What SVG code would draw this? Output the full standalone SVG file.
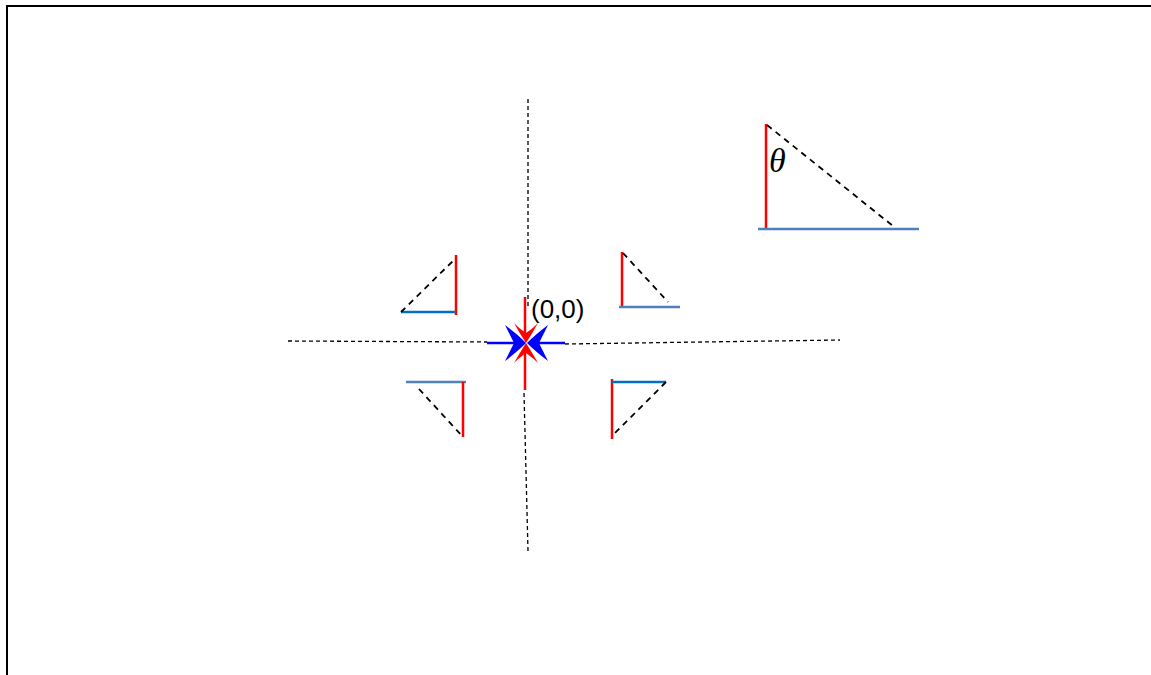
<svg xmlns="http://www.w3.org/2000/svg" width="1151" height="675" viewBox="0 0 1151 675">
<style>
.frame{fill:none;stroke:#000;stroke-width:2}
.dash{stroke:#000;stroke-width:1.3;stroke-dasharray:4,3;fill:none}
.dashb{stroke:#000;stroke-width:1.8;stroke-dasharray:6,5;fill:none}
.red{stroke:#FF0000;stroke-width:2.5;fill:none}
.blue1{stroke:#0070C0;stroke-width:2.5;fill:none}
.blue2{stroke:#4F81BD;stroke-width:2.5;fill:none}
.arrB{stroke:#0000FF;stroke-width:2.5;fill:none}
.lbl{font-family:"Liberation Sans","Open Sans",sans-serif;font-size:26px;fill:#000}
.theta{font-family:"Liberation Serif","DejaVu Serif",serif;font-style:italic;font-size:34px;fill:#000}
</style>
<defs>
<path id="headB" d="M0,0 C-6,-6 -13,-12 -21,-18 C-17,-10 -14,-4 -12,0 C-14,4 -17,10 -21,18 C-13,12 -6,6 0,0 Z" fill="#0000FF"/>
<path id="headR" d="M0,0 C-6,-4 -13,-8 -20,-12 C-15,-7 -12,-3 -10,0 C-12,3 -15,7 -20,12 C-13,8 -6,4 0,0 Z" fill="#FF0000"/>
</defs>
<rect width="1151" height="675" fill="#fff"/>
<path class="frame" d="M7,675 V6 H1151"/>
<g id="axes">
<line class="dash" x1="528" y1="99" x2="528" y2="308"/>
<line class="dash" x1="524" y1="393" x2="528" y2="551"/>
<line class="dash" x1="288" y1="341" x2="487" y2="342"/>
<line class="dash" x1="565" y1="344" x2="840" y2="340"/>
</g>
<g id="origin-arrows">
<line class="red" x1="525" y1="297" x2="525" y2="334"/>
<line class="red" x1="525" y1="390" x2="525" y2="352"/>
<line class="arrB" x1="487" y1="343" x2="517" y2="343"/>
<line class="arrB" x1="565" y1="343" x2="536" y2="343"/>
<use href="#headR" transform="translate(526,343) rotate(90)"/>
<use href="#headR" transform="translate(526,343) rotate(-90)"/>
<use href="#headB" transform="translate(526,343)"/>
<use href="#headB" transform="translate(527,343) rotate(180)"/>
<text class="lbl" x="531" y="318">(0,0)</text>
</g>
<g id="tri-big">
<line class="red" x1="766" y1="124" x2="766" y2="229"/>
<line class="blue2" x1="758" y1="229" x2="919" y2="229"/>
<line class="dashb" x1="767" y1="125" x2="893" y2="226"/>
<text class="theta" x="769" y="172">θ</text>
</g>
<g id="tri-tl">
<line class="red" x1="456" y1="255" x2="456" y2="315"/>
<line class="blue1" x1="401" y1="312" x2="456" y2="312"/>
<line class="dashb" x1="401" y1="312" x2="456" y2="258"/>
</g>
<g id="tri-tr">
<line class="red" x1="622" y1="252" x2="622" y2="306"/>
<line class="blue2" x1="619" y1="307" x2="680" y2="307"/>
<line class="dashb" x1="623" y1="253" x2="668" y2="302"/>
</g>
<g id="tri-bl">
<line class="blue2" x1="406" y1="382" x2="466" y2="382"/>
<line class="red" x1="463" y1="382" x2="463" y2="437"/>
<line class="dashb" x1="419" y1="389" x2="463" y2="437"/>
</g>
<g id="tri-br">
<line class="red" x1="612" y1="379" x2="612" y2="439"/>
<line class="blue1" x1="612" y1="382" x2="666" y2="382"/>
<line class="dashb" x1="666" y1="382" x2="612" y2="436"/>
</g>
</svg>
